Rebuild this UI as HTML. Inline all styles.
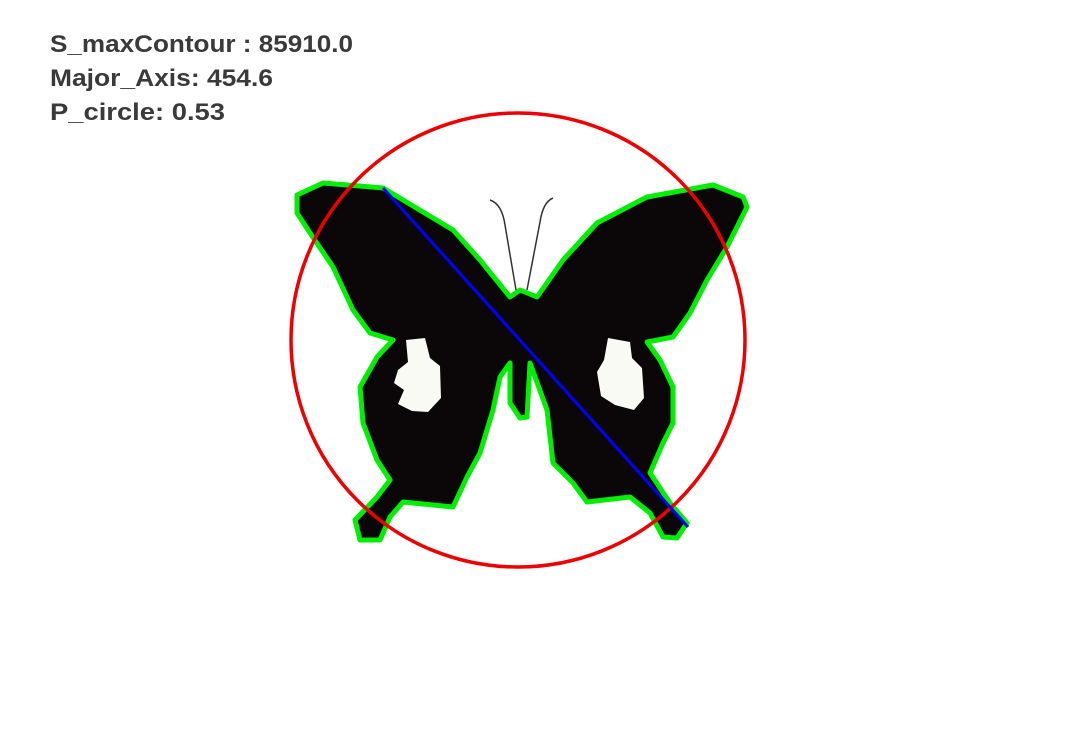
<!DOCTYPE html>
<html><head><meta charset="utf-8"><style>
html,body{margin:0;padding:0;background:#fff;}
svg{display:block;}
</style></head><body>
<svg width="1078" height="737" viewBox="0 0 1078 737">
<rect width="1078" height="737" fill="#fff"/>
<g font-family="Liberation Sans, sans-serif" font-weight="bold" font-size="24" fill="#3a3a3a">
<text x="50" y="52" textLength="303" lengthAdjust="spacingAndGlyphs">S_maxContour : 85910.0</text>
<text x="50" y="86" textLength="223" lengthAdjust="spacingAndGlyphs">Major_Axis: 454.6</text>
<text x="50" y="120" textLength="175" lengthAdjust="spacingAndGlyphs">P_circle: 0.53</text>
</g>
<path fill="#0b0607" stroke="#00ee00" stroke-width="5" stroke-linejoin="round"
d="M297,195 L323,183 L383,188 L453,230 L480,260 L510,297 L520,290 L537,297 L563,260 L597,223 L647,197 L713,185 L743,197 L747,207 L727,247 L707,280 L690,313 L673,337 L647,342 L660,360 L673,387 L673,423 L663,443 L650,473 L670,503 L687,523 L677,538 L663,537 L650,513 L630,497 L587,502 L573,483 L553,463 L547,410 L530,363 L527,417 L520,418 L510,403 L510,363 L500,377 L493,410 L480,453 L467,477 L453,507 L403,502 L390,517 L380,540 L360,540 L355,520 L377,497 L390,480 L377,460 L363,423 L360,387 L377,357 L393,340 L370,333 L353,310 L333,267 L310,233 L297,213 Z"/>
<path fill="#fafaf5" d="M406,340 L425,338 L430,358 L440,366 L441,398 L428,412 L412,411 L398,404 L404,390 L394,383 L398,370 L408,362 Z"/>
<path fill="#fafaf5" d="M608,338 L630,342 L632,358 L642,368 L644,398 L634,410 L615,405 L601,396 L597,372 L604,360 Z"/>
<path fill="none" stroke="#333" stroke-width="1.5" d="M490,200 Q502,204 505,225 L516,290"/>
<path fill="none" stroke="#333" stroke-width="1.5" d="M553,198 Q543,202 540,222 L527,290"/>
<circle cx="518" cy="340" r="227" fill="none" stroke="#ee0000" stroke-width="3.5"/>
<line x1="383" y1="188" x2="688" y2="527" stroke="#0000ff" stroke-width="3"/>
</svg>
</body></html>
